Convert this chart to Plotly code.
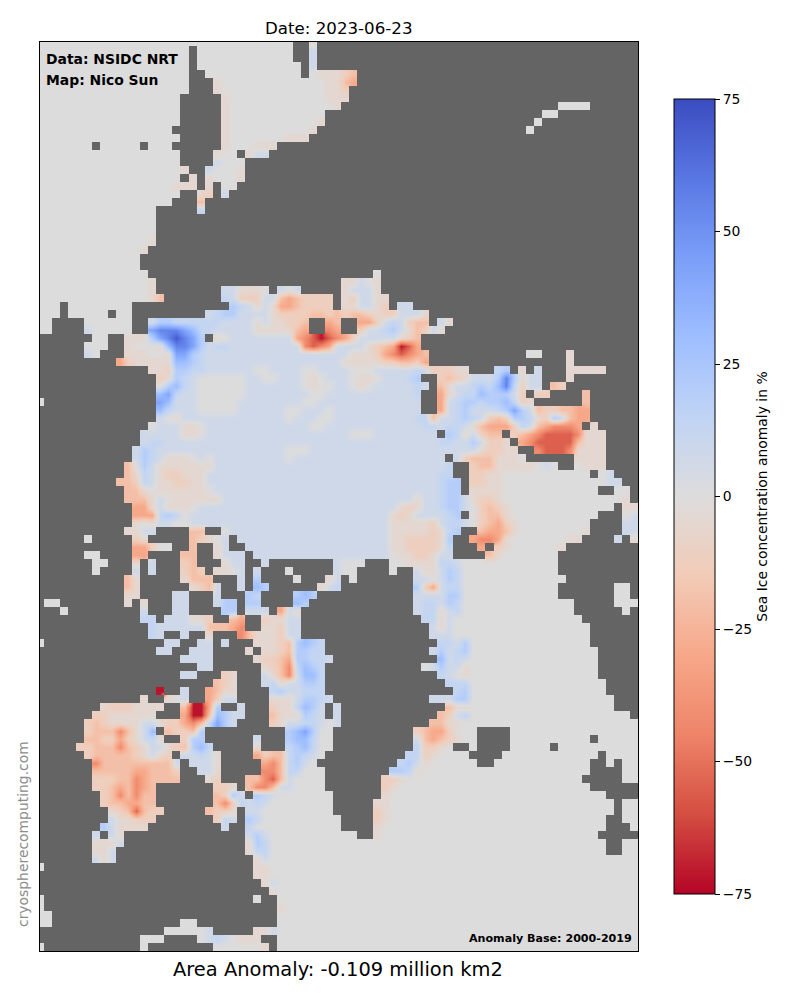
import plotly.graph_objects as go

# sea ice anomaly grid, one string per row from the top of the map, 75 cells wide
# '#' land, '.' no anomaly, 1-7 ice loss, a-g ice gain (see anomaly_codes)
anomaly_rows = [
    ".......... .......... .......... ..##1##### ########## ########## ########## #####",
    ".......... .........# .......... ..##a##### ########## ########## ########## #####",
    ".......... .........# .......... ..##a##### ########## ########## ########## #####",
    ".......... .........# .......... ...#a##### ########## ########## ########## #####",
    ".......... .........# #......... ...#.11123 ########## ########## ########## #####",
    ".......... .........# ##1....... ......1134 ########## ########## ########## #####",
    ".......... .........# ##1....... ......112# ########## ########## ########## #####",
    ".......... ........## ###1...... ......111# ########## ########## ########## #####",
    ".......... ........## ###1...... .......1## ########## ########## #####....# #####",
    ".......... ........## ###1...... ......#### ########## ########## ###..##### #####",
    ".......... ........## ###1...... .....1#### ########## ########## ##.####### #####",
    ".......... .......### ###1...... ....1##### ########## ########## #.######## #####",
    ".......... ........## ###1...... .111###### ########## ########## ########## #####",
    ".......#.. ...#...### ###1...111 ########## ########## ########## ########## #####",
    ".......... ........## ##1..#1aa# ########## ########## ########## ########## #####",
    ".......... ........## ##a...#### ########## ########## ########## ########## #####",
    ".......... ........1# #a...1#### ########## ########## ########## ########## #####",
    ".......... ........#1 #1...1#### ########## ########## ########## ########## #####",
    ".......... .......111 #1#..##### ########## ########## ########## ########## #####",
    ".......... ........## 12#a###### ########## ########## ########## ########## #####",
    ".......... .......### 3######### ########## ########## ########## ########## #####",
    ".......... .....##### b######### ########## ########## ########## ########## #####",
    ".......... .....##### ########## ########## ########## ########## ########## #####",
    ".......... .....##### ########## ########## ########## ########## ########## #####",
    ".......... .....##### ########## ########## ########## ########## ########## #####",
    ".......... ....1##### ########## ########## ########## ########## ########## #####",
    ".......... ...1###### ########## ########## ########## ########## ########## #####",
    ".......... ...####### ########## ########## ########## ########## ########## #####",
    ".......... ...####### ########## ########## ########## ########## ########## #####",
    ".......... ....###### ########## ########## ##.####### ########## ########## #####",
    ".......... ....1##### ########## ########11 a.1####### ########## ########## #####",
    ".......... ....1##### ###aa111.# a.a#####1a aa1####### ########## ########## #####",
    ".......... ....13#### ###ba222aa 3432222#12 aa11###### ########## ########## #####",
    "...#...... ..######## ####cba1a1 4432222#11 aa12#aa### ########## ########## #####",
    "...#.....# ..######## #abccaaaa1 2222332323 32122aaa1# ########## ########## #####",
    "..####.... ..##accbbb bbbaaaa1a1 1223##43## 442aba233# a1######## ########## #####",
    "..####a... ..##efffed bbaaaaa111 1134##54## 2aabca132a 1######### ########## #####",
    "#######..# #111cefgfe c#1.aaaaaa aa45676542 aaaaa123## ########## ########## #####",
    "######...# #1...1dffe cabbaaaaaa aaa5654aaa a1234764## ########## ########## #####",
    "######a.## #111..1eec baaaaaaaaa aaaaaaaaa1 112456543# ########## #..###1### #####",
    "########## 4211111ddc baaaaaaaaa aaaaaaaa11 111223324# ########## ######1### #####",
    "########## ####112ccb baaaaaa..a aaa..aaaa. ..aaaaaba2 2211###bc# 1#a###1111 1####",
    "########## #####21cba ......aa.. aaa.1.aaa. 11.aaabc## 2321aaacfc 1aa###1### #####",
    "########## #####.cdba ......aaaa aaa.1..aa. 1.aaaaaba# 31aabcbdfb 2aa#32#### #####",
    "########## #####debaa ......aaaa aaaa..aaaa aaaaaaab## 41abbdccca 2#22####3# #####",
    ".######### #####edaaa .....aaaaa aaa..aaaaa aaaaaaaa## 4abccbccdb 21######3# #####",
    "########## #####dbaaa .....aaaaa a..aaa.aaa aaaaaaaa## 4abcaaabce ca3223344# #####",
    "########## #####a.1aa aaaaaaaaaa a.aaa..aaa aaaaaaabb3 aabcba232c cb12ca344# #####",
    "########## ####.aaa11 .aaaaaaaaa aaaa..aaaa aaaaaaaabb abba134442 ba345554#1 #####",
    "########## ###aaaaa11 .aaaaaaaaa aaaaaaaaa. ..aaaaaaaa #cb1a233#2 3456666511 1####",
    "########## ###abbaaaa aaaaaaaaaa aaaaaaaaaa aaaaaaaaaa bbaaca221# 4566666311 1####",
    "########## ##acbaaaaa aaaaaaaaaa a...aaaaaa aaaaaaaaaa aaaaa12211 ##56665111 1####",
    "########## ##acba111. a.aaaaaaaa a.aaaaaaaa aaaaaaaaaa a#a2333111 .######111 1####",
    "########## #3.ca11111 11aaaaaaaa aaaaaaaaaa aaaaaaaaaa ab##233111 11.a.##.11 1####",
    "########## #31ba12211 1aaaaaaaaa aaaaaaaaaa aaaaaaaaaa bb##2211.. .........# .a###",
    "########## 332ba11221 1aaaaaaaaa aaaaaaaaaa aaaaaaaaaa bcc#2211.. .......... .aa##",
    "########## #331.11111 1.aaaaaaaa aaaaaaaaaa aaaaaaaaaa bcc#1111.. .......... ##..#",
    "########## #3331a.111 111aaaaaaa aaaaaaaaaa aaaaaaa1aa bcca1221.. .......... ...1#",
    "########## ##441a111. aaaaaaaaaa aaaaaaaaaa aaaaa121aa bcca.2321. .......... ..#11",
    "########## ##444bcb.a aaaaaaaaaa aaaaaaaaaa aaaa121aaa abc#.2331. .......... ###.a",
    "########## ##1.1aa..a aaaaaaaaaa aaaaaaaaaa aaaa111112 abba.23421 .........# ###aa",
    "########## #11aa####3 3##.aaaaaa aaaaaaaaaa aaaa111112 1bc##34431 ........1# ###aa",
    "######.### ##21#####3 21.a#aaaaa aaaaaaaaaa aaaa112222 1c##45541. ......11## ##a#1",
    "########## ##442..##3 ##1a##aaaa aaaaaaaaaa aaaa112222 1b###4#21. .....1#### #####",
    "######..## ##44####33 ##1aaa#aaa aaaaaaaaaa aaaa.11221 aa####31.. .....##### #####",
    "#######..# ##1#a###23 ###1aa##a# #######a.. .###..1111 bba....... .....##### #####",
    "#######.## ##a#a###23 2#11.a#a## #.#####a.. ####.##a11 acb....... .....##### #####",
    "########## #31#####13 33###a#c## ##.###1a#. #######aa. acb....... ......#### #####",
    "########## #31######1 23a##a#dc# #####1ab## #######c24 abb....... .....##### ##..#",
    "########## #11####aa# ##a###cb## ##cdc##### #######aaa acc....... .....##### ##..#",
    "#..####### #1#1###aa# ##acc#cc## ##dc###### #######abb acb....... .......### ##...",
    "###.###### ###a###aa# ###cc#aaa# 4a1####### #######abb 1ab....... .......### ###.#",
    "########## ###bb#aaa1 12##34##21 1aa####### ########bb 1a........ ........## #####",
    "########## ####baaaaa a33345##11 2aa####### #########a 1a........ .........# #####",
    "########## ####ba##a# #1###53111 2aa####### #########a aa........ .........# #####",
    ".######### ######aa## aa#a###111 23cdcb#### ########## bbac...... .........# #####",
    "########## #####aa##a aa####1#11 23ccbb#### #########a cabc...... .......... #####",
    "########## ########aa aa#####122 34ccbba### ########## daba...... .......... #####",
    "########## ########## aa######12 35bdcb#### ########.a caa1...... .......... #####",
    "########## ########aa ###21###a1 35addb#### ########## ba.1...... .......... #####",
    "########## ########## ##321###ab 1aaccb#### ########## #bbb...... .......... .####",
    "########## #####7##a# #4311####b caabbb#### ########## ##bc...... .......... .####",
    "########## ###1##1.a# #42aa####1 11accba### #########a aacc...... .......... ..###",
    "########12 221111##37 74c##a###2 11bdca#a## ########## #311...... .......... ..###",
    "#######221 11111###47 73dcaa###3 111cba#a## ########## 32ab...... .......... ....#",
    "######2321 111aa12245 3beca####2 1aabba.a## #########3 311....... .......... .....",
    "######2333 531ad#3223 c######### #cdec..### #######234 42...####. .......... .....",
    "######3322 421ab1##2c c######a## #cddb..### #######a34 321..####. .........# .....",
    "#####22333 5321aa123c db#####1## #bcdb..### #######b22 1.##.####. ....#..... .....",
    "######2333 3321a12#aa ba1####423 3bcba.#### ######bb21 ....####.. .......... #....",
    "#######533 3333333a#a aa1#####45 3bca.##### #####bca1. .....##... .........# #.#..",
    "#######333 33443332## aa1#####55 3bb...#### ####ccb1.. .......... .........# ###..",
    "#######222 33543333## #12###3356 3a....#### ###221.... .......... ........## ###..",
    "#######223 43543##### ##221#3553 aa....#### ###21..... .......... .........# #####",
    "########23 53533##### ##32ca#cba .......### ###1...... .......... .......... .####",
    "########23 34433##### ##352baba. .......### ##11...... .......... .......... ..#..",
    "#########1 236322#### #3221#aa.. .......### ##21...... .......... .......... ..#..",
    "#########a 11222##### ##2ba#cb.. ........## ##21...... .......... .......... .##..",
    "########ca 1111###### ###a##b... ........## ##1....... .......... .......... .###.",
    "#######a#a 1######### ######aca. .......... ##1....... .......... .......... #####",
    "#######111 a######### ######1cb. .......... .......... .......... .......... .##..",
    "#######11a ########## ######1bb. .......... .......... .......... .......... .##..",
    "#######a1a ########## #######1a. .......... .......... .......... .......... .....",
    ".######### ########## #######11. .......... .......... .......... .......... .....",
    "########## ########## #######11. .......... .......... .......... .......... .....",
    "########## ########## ########1a .......... .......... .......... .......... .....",
    "########## ########## #########1 .......... .......... .......... .......... .....",
    ".######### ########## #######.## .......... .......... .......... .......... .....",
    ".######### ########## ########## 1......... .......... .......... .......... .....",
    "..######## ########## ########## .......... .......... .......... .......... .....",
    "..######## ########.. ########## .......... .......... .......... .......... .....",
    "########## ######.... .a#####11a .......... .......... .......... .......... .....",
    "########## ###...#### .aba.111## .......... .......... .......... .......... .....",
    ".######### ###.###### ##......1# .......... .......... .......... .......... .....",
]

# % anomaly for each code in the rows above
anomaly_codes = {
    "#": None, ".": 0,
    "1": -5, "2": -12, "3": -20, "4": -30, "5": -42, "6": -55, "7": -72,
    "a": 7, "b": 13, "c": 20, "d": 30, "e": 42, "f": 55, "g": 70,
}

tick_values = [-75, -50, -25, 0, 25, 50, 75]

# matplotlib coolwarm_r
coolwarm_r = [
    [0.0, "#b40426"], [0.1, "#d44e41"], [0.2, "#ee8468"], [0.3, "#f7a889"],
    [0.4, "#f2cbb7"], [0.5, "#dddcdc"], [0.6, "#c0d4f5"], [0.7, "#9ebeff"],
    [0.8, "#7b9ff9"], [0.9, "#5977e3"], [1.0, "#3b4cc0"],
]

z = []
for row in anomaly_rows:
    cells = row.replace(" ", "")[:75].ljust(75, "#")
    z.append([anomaly_codes[c] for c in cells])

FONT = "DejaVu Sans"
LAND = "#646464"

fig = go.Figure(go.Heatmap(
    z=z,
    # bilinear smoothing paints a cell from its centre onward, so centre the cells half a step back
    x0=-0.5, dx=1,
    y0=-0.5, dy=1,
    zsmooth="best",
    colorscale=coolwarm_r,
    zmin=-75, zmax=75,
    hoverongaps=False,
    colorbar=dict(
        x=(674 - 40) / 598, xanchor="left",
        y=(951 - 894) / 909, yanchor="bottom",
        len=795 / 909, lenmode="fraction",
        thickness=41, thicknessmode="pixels",
        xpad=0, ypad=0,
        outlinecolor="black", outlinewidth=1,
        tickmode="array", tickvals=tick_values,
        ticks="outside", ticklen=5, tickcolor="black",
        tickfont=dict(family=FONT, size=13.9, color="black"),
        title=dict(text="Sea Ice concentration anomaly in %", side="right",
                   font=dict(family=FONT, size=13.9, color="black")),
    ),
))

# the page puts the figure 8px in from the window corner
fig.update_layout(
    width=792, height=992,
    margin=dict(l=32, r=162, t=34, b=49, pad=0),
    paper_bgcolor="white",
    plot_bgcolor=LAND,
    font=dict(family=FONT, color="black"),
)
fig.update_xaxes(range=[-0.5, 74], visible=True, showticklabels=False, ticks="",
                 showgrid=False, zeroline=False,
                 showline=True, mirror=True, linecolor="black", linewidth=1)
fig.update_yaxes(range=[113, -0.5], visible=True, showticklabels=False, ticks="",
                 showgrid=False, zeroline=False,
                 showline=True, mirror=True, linecolor="black", linewidth=1)


def label(text, px, py, size, **kw):
    # px, py are page pixels, converted to plot fractions
    fig.add_annotation(
        text=text, xref="paper", yref="paper",
        x=(px - 40) / 598, y=(951 - py) / 909,
        showarrow=False, font=dict(family=FONT, size=size, color=kw.pop("color", "black")),
        **kw,
    )


label("Date: 2023-06-23", 339, 28, 16.67, xanchor="center", yanchor="middle")
label("<b>Data: NSIDC NRT</b>", 44, 59, 13.9, xanchor="left", yanchor="middle")
label("<b>Map: Nico Sun</b>", 44, 80, 13.9, xanchor="left", yanchor="middle")
label("<b>Anomaly Base: 2000-2019</b>", 634, 938, 11.1, xanchor="right", yanchor="middle")
label("Area Anomaly: -0.109 million km2", 338, 969, 19.44, xanchor="center", yanchor="middle")
label("cryospherecomputing.com", 23, 834, 13.9, xanchor="center", yanchor="middle",
      textangle=-90, color="#8c8c8c")

fig.write_html("out.html")
